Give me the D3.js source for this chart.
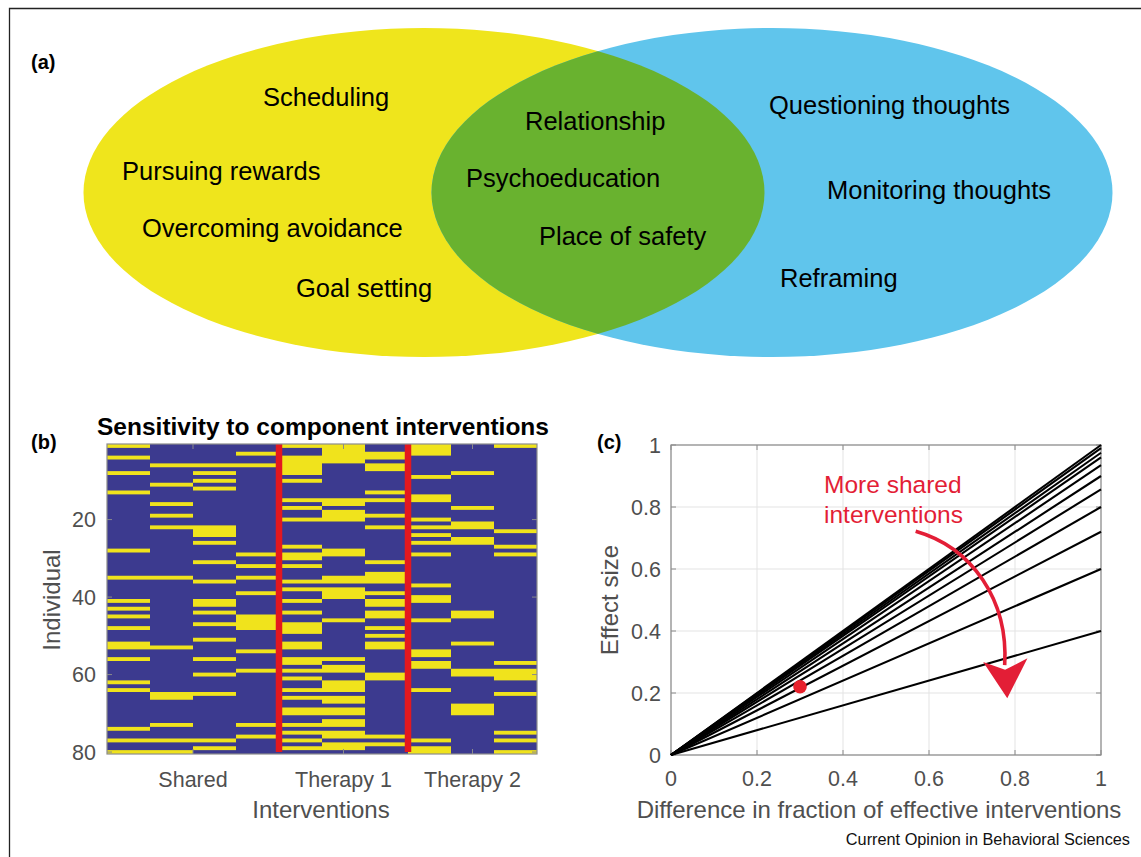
<!DOCTYPE html>
<html><head><meta charset="utf-8">
<script src="https://cdn.jsdelivr.net/npm/d3@7"></script>
<style>
body{margin:0;background:#fff;}
svg{display:block;font-family:"Liberation Sans",Arial,Helvetica,sans-serif;}
</style>
</head><body>
<svg id="fig" width="1141" height="857"></svg>
<script>
// ---------------- DATA ----------------
// Panel (a): Venn diagram items
const vennLeftItems = ["Scheduling", "Pursuing rewards", "Overcoming avoidance", "Goal setting"];
const vennSharedItems = ["Relationship", "Psychoeducation", "Place of safety"];
const vennRightItems = ["Questioning thoughts", "Monitoring thoughts", "Reframing"];

// Panel (b): individuals (rows 1..80) sensitive to each intervention column (yellow cells)
const sharedSensitive = [
  [1,4,8,13,28,35,41,43,45,48,52,53,56,62,64,74,77,80],
  [6,11,16,19,22,35,53,65,66,73,77,80],
  [6,8,10,12,22,23,24,26,31,36,41,42,44,47,51,56,60,65,77,79],
  [3,6,29,32,35,39,45,46,47,48,54,59,73,76]
];
const therapy1Sensitive = [
  [1,4,5,6,7,8,10,15,17,20,27,29,30,32,36,38,41,44,47,48,49,52,53,56,57,59,61,64,66,69,70,73,75,77,79],
  [1,2,3,4,5,15,16,18,19,20,28,29,35,36,38,39,40,46,56,58,59,62,63,64,66,67,69,70,72,73,75,76,78,79],
  [3,4,6,7,13,15,19,22,31,34,35,36,39,41,42,44,45,48,50,52,53,60,61,76,78]
];
const therapy2Sensitive = [
  [1,2,3,9,14,15,20,22,24,26,29,37,40,41,46,54,55,57,58,64,77,79,80],
  [8,17,21,22,25,26,44,45,52,59,60,68,69,70],
  [1,23,27,29,57,59,60,61,65,75,77,80]
];
const groupLabels = ["Shared", "Therapy 1", "Therapy 2"];
const individualTicks = [20, 40, 60, 80];
const nIndividuals = 80;

// Panel (c): effect size vs difference in fraction of effective interventions
const effectSlopes = [1.0, 0.99, 0.975, 0.96, 0.935, 0.90, 0.857, 0.80, 0.72, 0.60, 0.40];
const axisTicksC = [0, 0.2, 0.4, 0.6, 0.8, 1];
const examplePoint = {x: 0.3, y: 0.22};

// ---------------- DRAWING ----------------
const svg = d3.select("#fig");
svg.append("rect").attr("width", 1141).attr("height", 857).attr("fill", "#fff");

// outer frame
svg.append("path").attr("d", "M9.5,857V8.5H1141").attr("fill", "none")
  .attr("stroke", "#222").attr("stroke-width", 1.3);

// ---- Panel (a) ----
const vennX = d3.scalePoint().domain(["left", "right"]).range([424, 772]);
const vennRX = 340.5, vennRY = 164.5, vennCY = 192.5;
const defs = svg.append("defs");
defs.append("clipPath").attr("id", "clipLeft").append("ellipse")
  .attr("cx", vennX("left")).attr("cy", vennCY).attr("rx", vennRX).attr("ry", vennRY);
svg.append("ellipse").attr("cx", vennX("left")).attr("cy", vennCY)
  .attr("rx", vennRX).attr("ry", vennRY).attr("fill", "#EFE51C");
svg.append("ellipse").attr("cx", vennX("right")).attr("cy", vennCY)
  .attr("rx", vennRX).attr("ry", vennRY).attr("fill", "#60C5EC");
svg.append("ellipse").attr("cx", vennX("right")).attr("cy", vennCY)
  .attr("rx", vennRX).attr("ry", vennRY).attr("fill", "#69B22F")
  .attr("clip-path", "url(#clipLeft)");

const leftPos = [[263,106],[122,180],[142,237],[296,297]];
const sharedPos = [[525,130],[466,187],[539,245]];
const rightPos = [[769,114],[827,199],[780,287]];
function vennLabels(items, pos) {
  svg.append("g").selectAll("text").data(items).join("text")
    .attr("x", (d, i) => pos[i][0]).attr("y", (d, i) => pos[i][1])
    .attr("font-size", 25.5).attr("fill", "#000").text(d => d);
}
vennLabels(vennLeftItems, leftPos);
vennLabels(vennSharedItems, sharedPos);
vennLabels(vennRightItems, rightPos);

svg.append("text").attr("x", 31).attr("y", 69).attr("font-size", 20)
  .attr("font-weight", "bold").text("(a)");

// ---- Panel (b) ----
const allCols = [...sharedSensitive, ...therapy1Sensitive, ...therapy2Sensitive];
const groupCols = [
  d3.range(1, sharedSensitive.length + 1),
  d3.range(sharedSensitive.length + 1, sharedSensitive.length + therapy1Sensitive.length + 1),
  d3.range(sharedSensitive.length + therapy1Sensitive.length + 1, allCols.length + 1)
];
const hx = d3.scaleLinear().domain([0.5, allCols.length + 0.5]).range([107, 537]);
const hy = d3.scaleLinear().domain([0.5, nIndividuals + 0.5]).range([444, 754]);
const gb = svg.append("g");
gb.append("rect").attr("x", hx(0.5)).attr("y", hy(0.5))
  .attr("width", hx(allCols.length + 0.5) - hx(0.5))
  .attr("height", hy(nIndividuals + 0.5) - hy(0.5)).attr("fill", "#3C3A8F");

// build runs of consecutive yellow rows per column
const runs = [];
allCols.forEach((rows, ci) => {
  const s = [...rows].sort((a, b) => a - b);
  let start = null, prev = null;
  s.forEach(r => {
    if (start === null) { start = r; prev = r; }
    else if (r === prev + 1) { prev = r; }
    else { runs.push({c: ci + 1, a: start, b: prev}); start = r; prev = r; }
  });
  if (start !== null) runs.push({c: ci + 1, a: start, b: prev});
});
gb.selectAll("rect.cell").data(runs).join("rect").attr("class", "cell")
  .attr("x", d => hx(d.c - 0.5)).attr("width", d => hx(d.c + 0.5) - hx(d.c - 0.5))
  .attr("y", d => hy(d.a - 0.5)).attr("height", d => hy(d.b + 0.5) - hy(d.a - 0.5))
  .attr("fill", "#F0E31C");

// tick marks (inside)
const tickCol = "#8a8a8a";
individualTicks.forEach(t => {
  gb.append("line").attr("x1", hx(0.5)).attr("x2", hx(0.5) + 5).attr("y1", hy(t)).attr("y2", hy(t)).attr("stroke", tickCol);
  gb.append("line").attr("x1", hx(allCols.length + 0.5)).attr("x2", hx(allCols.length + 0.5) - 5).attr("y1", hy(t)).attr("y2", hy(t)).attr("stroke", tickCol);
});
const groupCenters = groupCols.map(g => d3.mean(g));
groupCenters.forEach(c => {
  gb.append("line").attr("x1", hx(c)).attr("x2", hx(c)).attr("y1", hy(0.5)).attr("y2", hy(0.5) + 5).attr("stroke", tickCol);
  gb.append("line").attr("x1", hx(c)).attr("x2", hx(c)).attr("y1", hy(nIndividuals + 0.5)).attr("y2", hy(nIndividuals + 0.5) - 5).attr("stroke", tickCol);
});

// red separators
[groupCols[0].length + 0.5, groupCols[0].length + groupCols[1].length + 0.5].forEach(b => {
  gb.append("line").attr("x1", hx(b)).attr("x2", hx(b))
    .attr("y1", hy(0.5)).attr("y2", hy(nIndividuals + 0.5) - 2)
    .attr("stroke", "#E3181F").attr("stroke-width", 6.5);
});
gb.append("rect").attr("x", hx(0.5)).attr("y", hy(0.5))
  .attr("width", hx(allCols.length + 0.5) - hx(0.5))
  .attr("height", hy(nIndividuals + 0.5) - hy(0.5))
  .attr("fill", "none").attr("stroke", "#8c8c8c").attr("stroke-width", 1.2);

const axisText = "#4f4f4f";
gb.selectAll("text.yt").data(individualTicks).join("text").attr("class", "yt")
  .attr("x", 96).attr("y", d => hy(d)).attr("dy", "0.36em")
  .attr("text-anchor", "end").attr("font-size", 21.5).attr("fill", axisText).text(d => d);
gb.selectAll("text.xt").data(groupLabels).join("text").attr("class", "xt")
  .attr("x", (d, i) => hx(groupCenters[i])).attr("y", 787)
  .attr("text-anchor", "middle").attr("font-size", 21.5).attr("fill", axisText).text(d => d);
gb.append("text").attr("x", 321).attr("y", 818).attr("text-anchor", "middle")
  .attr("font-size", 24).attr("fill", axisText).text("Interventions");
gb.append("text").attr("transform", "translate(60,600) rotate(-90)")
  .attr("text-anchor", "middle").attr("font-size", 24).attr("fill", axisText).text("Individual");
gb.append("text").attr("x", 323).attr("y", 435).attr("text-anchor", "middle")
  .attr("font-size", 24.5).attr("font-weight", "bold").attr("fill", "#000")
  .text("Sensitivity to component interventions");
svg.append("text").attr("x", 31).attr("y", 449).attr("font-size", 20)
  .attr("font-weight", "bold").text("(b)");

// ---- Panel (c) ----
const cxs = d3.scaleLinear().domain([0, 1]).range([671, 1101]);
const cys = d3.scaleLinear().domain([0, 1]).range([755, 445]);
const gc = svg.append("g");
axisTicksC.forEach(t => {
  gc.append("line").attr("x1", cxs(t)).attr("x2", cxs(t)).attr("y1", cys(0)).attr("y2", cys(1))
    .attr("stroke", "#e3e3e3").attr("stroke-width", 1);
  gc.append("line").attr("x1", cxs(0)).attr("x2", cxs(1)).attr("y1", cys(t)).attr("y2", cys(t))
    .attr("stroke", "#e3e3e3").attr("stroke-width", 1);
});
axisTicksC.forEach(t => {
  gc.append("line").attr("x1", cxs(t)).attr("x2", cxs(t)).attr("y1", cys(0)).attr("y2", cys(0) - 5).attr("stroke", tickCol);
  gc.append("line").attr("x1", cxs(t)).attr("x2", cxs(t)).attr("y1", cys(1)).attr("y2", cys(1) + 5).attr("stroke", tickCol);
  gc.append("line").attr("x1", cxs(0)).attr("x2", cxs(0) + 5).attr("y1", cys(t)).attr("y2", cys(t)).attr("stroke", tickCol);
  gc.append("line").attr("x1", cxs(1)).attr("x2", cxs(1) - 5).attr("y1", cys(t)).attr("y2", cys(t)).attr("stroke", tickCol);
});
gc.append("rect").attr("x", cxs(0)).attr("y", cys(1)).attr("width", cxs(1) - cxs(0))
  .attr("height", cys(0) - cys(1)).attr("fill", "none").attr("stroke", "#8c8c8c").attr("stroke-width", 1.2);

const line = d3.line().x(d => cxs(d[0])).y(d => cys(d[1]));
gc.selectAll("path.sl").data(effectSlopes).join("path").attr("class", "sl")
  .attr("d", s => line([[0, 0], [1, s]])).attr("fill", "none")
  .attr("stroke", "#000").attr("stroke-width", 2.1);

gc.append("circle").attr("cx", cxs(examplePoint.x)).attr("cy", cys(examplePoint.y))
  .attr("r", 6.8).attr("fill", "#E8202B");

// curved annotation arrow
const red = "#E31E36";
const ap = d3.path();
ap.moveTo(cxs(0.569), cys(0.722));
ap.bezierCurveTo(cxs(0.70), cys(0.67), cxs(0.785), cys(0.50), cxs(0.776), cys(0.29));
gc.append("path").attr("d", ap.toString()).attr("fill", "none").attr("stroke", red).attr("stroke-width", 3.6);
const head = d3.path();
head.moveTo(cxs(0.782), cys(0.183));
head.lineTo(cxs(0.726), cys(0.300));
head.lineTo(cxs(0.777), cys(0.275));
head.lineTo(cxs(0.829), cys(0.312));
head.closePath();
gc.append("path").attr("d", head.toString()).attr("fill", red);

gc.append("text").attr("x", 824).attr("y", 493).attr("font-size", 24.5).attr("fill", red).text("More shared");
gc.append("text").attr("x", 824).attr("y", 523).attr("font-size", 24.5).attr("fill", red).text("interventions");

gc.selectAll("text.ytc").data(axisTicksC).join("text").attr("class", "ytc")
  .attr("x", 661).attr("y", d => cys(d)).attr("dy", "0.36em").attr("text-anchor", "end")
  .attr("font-size", 21.5).attr("fill", axisText).text(d => d3.format("~g")(d));
gc.selectAll("text.xtc").data(axisTicksC).join("text").attr("class", "xtc")
  .attr("x", d => cxs(d)).attr("y", 786).attr("text-anchor", "middle")
  .attr("font-size", 21.5).attr("fill", axisText).text(d => d3.format("~g")(d));
gc.append("text").attr("x", 879).attr("y", 818).attr("text-anchor", "middle")
  .attr("font-size", 24).attr("fill", axisText).text("Difference in fraction of effective interventions");
gc.append("text").attr("transform", "translate(618,600) rotate(-90)").attr("text-anchor", "middle")
  .attr("font-size", 24).attr("fill", axisText).text("Effect size");
svg.append("text").attr("x", 597).attr("y", 449).attr("font-size", 20)
  .attr("font-weight", "bold").text("(c)");

svg.append("text").attr("x", 1130).attr("y", 845).attr("text-anchor", "end")
  .attr("font-size", 16.3).attr("fill", "#111").text("Current Opinion in Behavioral Sciences");
</script>
</body></html>
